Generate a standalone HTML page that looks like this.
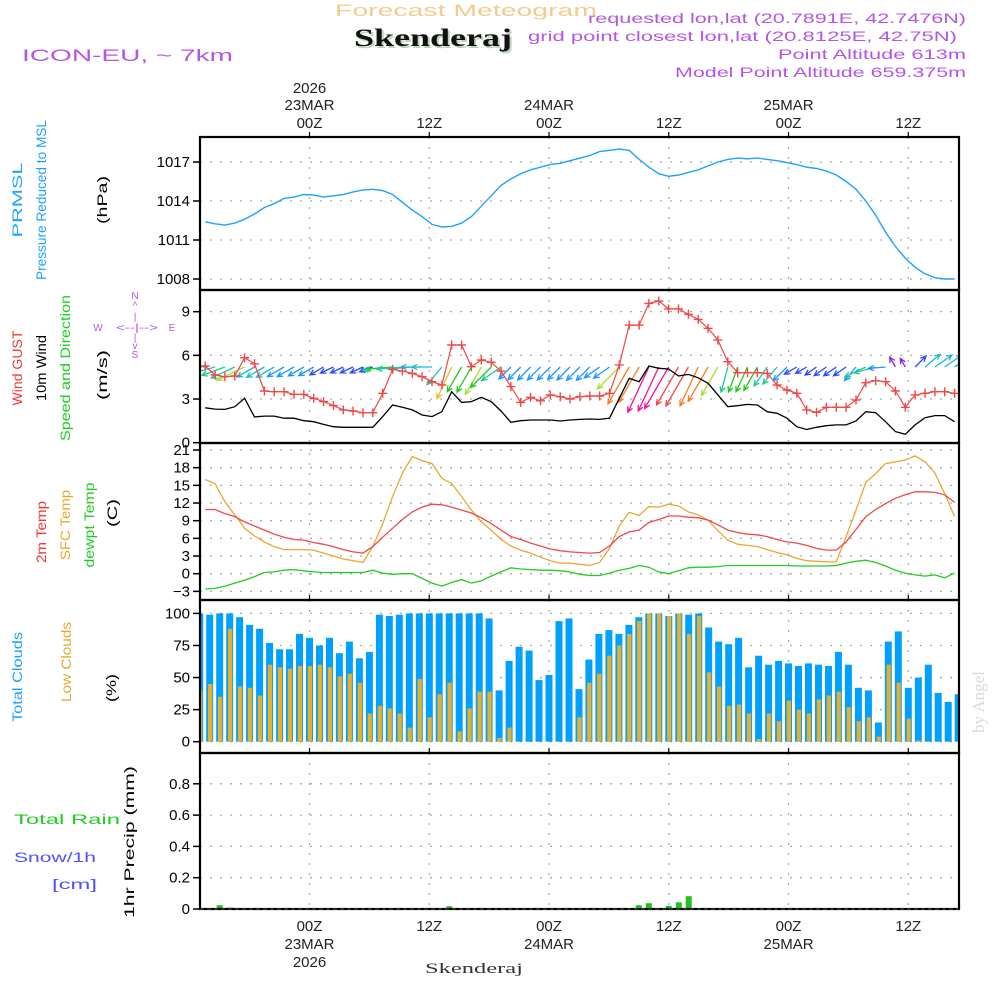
<!DOCTYPE html>
<html><head><meta charset="utf-8"><title>Skenderaj Meteogram</title>
<style>
html,body{margin:0;padding:0;background:#fff;}
svg{display:block;font-family:"Liberation Sans",sans-serif;}
</style></head>
<body>
<svg id="chart" width="1000" height="1000" viewBox="0 0 1000 1000" xmlns="http://www.w3.org/2000/svg">
<defs>
<clipPath id="plotclip"><rect x="200" y="137" width="759" height="775"/></clipPath>
</defs>
<g id="header">
<text x="466" y="16" text-anchor="middle" font-size="17" fill="#f2cc8e" textLength="262">Forecast Meteogram</text>
<text x="435" y="48" text-anchor="middle" font-size="25" font-weight="bold" font-family="Liberation Serif, serif" fill="#bcd3bc" textLength="158">Skenderaj</text>
<text x="433" y="46" text-anchor="middle" font-size="25" font-weight="bold" font-family="Liberation Serif, serif" fill="#111" textLength="158">Skenderaj</text>
<text x="966" y="23" text-anchor="end" font-size="14" fill="#b455e6" textLength="378">requested lon,lat (20.7891E, 42.7476N)</text>
<text x="957" y="41" text-anchor="end" font-size="14" fill="#b455e6" textLength="429">grid point closest lon,lat (20.8125E, 42.75N)</text>
<text x="966" y="59" text-anchor="end" font-size="14" fill="#b455e6" textLength="188">Point Altitude 613m</text>
<text x="966" y="77" text-anchor="end" font-size="14" fill="#b455e6" textLength="291">Model Point Altitude 659.375m</text>
<text x="22" y="61" font-size="17" fill="#b455e6" textLength="211">ICON-EU, ~ 7km</text>
</g>
<g id="left-labels" font-size="14">
<text transform="translate(22,200) rotate(-90)" text-anchor="middle" fill="#1ea2ff" textLength="75">PRMSL</text>
<text transform="translate(46,200) rotate(-90)" text-anchor="middle" fill="#1ea2ff" textLength="160">Pressure Reduced to MSL</text>
<text transform="translate(107,200) rotate(-90)" text-anchor="middle" fill="#000" textLength="48">(hPa)</text>
<text transform="translate(22,368) rotate(-90)" text-anchor="middle" fill="#f03838" textLength="75">Wind GUST</text>
<text transform="translate(46,368) rotate(-90)" text-anchor="middle" fill="#000" textLength="66">10m Wind</text>
<text transform="translate(70,368) rotate(-90)" text-anchor="middle" fill="#22cc22" textLength="146">Speed and Direction</text>
<text transform="translate(107,375) rotate(-90)" text-anchor="middle" fill="#000" textLength="50">(m/s)</text>
<text transform="translate(46,532) rotate(-90)" text-anchor="middle" fill="#f03838" textLength="62">2m Temp</text>
<text transform="translate(70,525) rotate(-90)" text-anchor="middle" fill="#e8a830" textLength="70">SFC Temp</text>
<text transform="translate(94,525) rotate(-90)" text-anchor="middle" fill="#22cc22" textLength="85">dewpt Temp</text>
<text transform="translate(117,513) rotate(-90)" text-anchor="middle" fill="#000" textLength="28">(C)</text>
<text transform="translate(22,677) rotate(-90)" text-anchor="middle" fill="#1ea2ff" textLength="90">Total Clouds</text>
<text transform="translate(71,662) rotate(-90)" text-anchor="middle" fill="#e8a830" textLength="80">Low Clouds</text>
<text transform="translate(116,688) rotate(-90)" text-anchor="middle" fill="#000" textLength="28">(%)</text>
<text x="14" y="824" fill="#22cc22" textLength="106">Total   Rain</text>
<text x="14" y="862" fill="#5050ff" textLength="82">Snow/1h</text>
<text x="52" y="889" fill="#5050ff" textLength="45">[cm]</text>
<text transform="translate(134,842) rotate(-90)" text-anchor="middle" fill="#000" textLength="152">1hr Precip (mm)</text>
</g>
<g id="compass" fill="#b455e6" font-size="10">
<text x="135" y="299" text-anchor="middle">N</text>
<text x="135" y="309" text-anchor="middle">^</text>
<text x="135" y="320" text-anchor="middle">|</text>
<text x="98" y="331" text-anchor="middle">W</text>
<text x="137" y="331" text-anchor="middle" textLength="42">&lt;--|--&gt;</text>
<text x="172" y="331" text-anchor="middle">E</text>
<text x="135" y="341" text-anchor="middle">|</text>
<text x="135" y="349" text-anchor="middle">v</text>
<text x="135" y="358" text-anchor="middle">S</text>
</g>
<text transform="translate(984,702) rotate(-90)" text-anchor="middle" font-size="17" font-family="Liberation Serif, serif" fill="#d4dcd4">by Angel</text>
<g id="grid"></g>
<g id="marks" clip-path="url(#plotclip)"></g>
<g id="axes"></g>
</svg>
<script>
// ---- data ----
const cloudTotal = [100,99,100,100,97,91,88,77,72,72,84,81,75,81,69,78,65,70,99,98,99,100,100,100,100,100,100,100,100,96,40,63,74,71,48,52,94,96,41,64,84,87,84,91,97,100,100,98,100,99,100,89,78,76,81,58,67,60,63,61,59,61,60,59,70,60,42,40,15,78,86,42,50,60,38,31,37];
const cloudLow = [40,45,35,88,43,42,36,60,58,57,59,59,60,58,51,53,46,22,28,26,22,11,49,19,37,46,8,26,39,39,3,11,0,0,0,0,0,0,19,46,53,67,75,84,94,100,100,98,100,84,98,54,43,28,29,22,2,22,16,32,25,22,33,36,39,27,16,19,4,60,46,18,1,0,0,0,0];
const pressure = [1012.4,1012.25,1012.15,1012.3,1012.6,1013.0,1013.5,1013.8,1014.2,1014.3,1014.5,1014.45,1014.3,1014.4,1014.5,1014.7,1014.85,1014.9,1014.8,1014.5,1013.9,1013.3,1012.8,1012.2,1012.0,1012.05,1012.3,1012.8,1013.6,1014.4,1015.2,1015.7,1016.1,1016.4,1016.6,1016.8,1016.9,1017.1,1017.3,1017.5,1017.8,1017.9,1018.0,1017.9,1017.2,1016.6,1016.1,1015.9,1016.0,1016.2,1016.4,1016.7,1017.0,1017.2,1017.3,1017.25,1017.3,1017.2,1017.1,1016.95,1016.8,1016.6,1016.5,1016.3,1016.0,1015.5,1014.9,1014.0,1012.9,1011.6,1010.5,1009.6,1008.9,1008.4,1008.1,1008.0,1008.0];
const windGust = [5.27,4.65,4.53,4.58,5.84,5.42,3.55,3.5,3.5,3.32,3.32,3.05,2.82,2.55,2.25,2.18,2.06,2.06,3.39,5.04,4.92,4.76,4.53,4.19,3.96,6.71,6.71,5.22,5.68,5.52,4.92,3.85,2.77,3.12,2.88,3.28,3.16,3.0,3.16,3.21,3.21,3.39,5.34,8.08,8.08,9.57,9.73,9.19,9.19,8.82,8.47,7.86,7.05,5.56,4.81,4.81,4.81,4.76,3.96,3.62,3.39,2.25,2.09,2.43,2.43,2.43,2.93,4.12,4.26,4.19,3.55,2.43,3.28,3.39,3.5,3.5,3.39];
const wind10m = [2.4,2.31,2.29,2.47,3.05,1.77,1.83,1.83,1.68,1.68,1.51,1.44,1.26,1.1,1.06,1.06,1.06,1.06,1.79,2.59,2.43,2.25,1.9,1.79,2.13,3.5,2.77,2.82,3.12,2.82,2.18,1.4,1.51,1.56,1.56,1.56,1.49,1.56,1.6,1.63,1.6,1.68,3.05,4.42,4.19,5.27,5.11,5.06,4.58,4.69,4.46,4.08,3.28,2.47,2.54,2.63,2.59,2.13,2.02,1.68,1.1,0.91,1.06,1.17,1.22,1.22,1.49,2.13,2.06,1.44,0.76,0.58,1.22,1.72,1.86,1.86,1.44];
const windDir = [275,255,250,245,245,240,240,240,240,240,240,240,240,245,245,245,245,250,260,265,265,265,270,270,220,205,210,210,210,225,235,225,225,225,225,225,225,225,225,225,235,235,225,210,210,205,205,210,210,210,205,210,210,195,200,205,210,215,220,225,240,240,235,235,235,235,220,245,255,265,330,330,45,50,55,55,55];
const temp2m = [10.9,10.9,10.2,9.7,8.8,8.1,7.4,6.7,6.2,5.8,5.7,5.3,5.0,4.6,4.1,3.7,3.5,4.6,6.2,7.7,9.2,10.5,11.3,11.8,11.7,11.3,10.8,10.3,9.5,8.5,7.4,6.3,5.8,5.2,4.7,4.2,3.9,3.7,3.6,3.5,3.6,4.7,6.3,7.1,7.4,8.7,9.2,9.8,9.8,9.6,9.5,9.1,8.3,7.4,7.0,6.7,6.6,6.3,5.8,5.4,5.2,4.8,4.3,4.0,4.0,5.4,7.5,9.7,10.9,11.9,12.8,13.4,13.9,13.9,13.8,13.4,12.1];
const tempSfc = [16.0,15.3,12.2,10.0,7.7,6.4,5.4,4.6,4.1,4.1,4.1,4.0,3.5,3.0,2.5,2.2,1.9,4.6,8.5,13.1,17.1,19.9,19.2,18.7,16.2,15.3,13.1,10.8,8.8,7.4,5.8,4.7,4.0,3.5,2.8,2.2,1.8,1.8,1.6,1.4,1.9,4.3,8.1,10.4,9.9,11.4,11.3,11.8,11.5,10.5,10.0,9.1,7.3,5.7,5.0,4.8,4.6,4.1,3.6,3.2,2.6,2.2,2.1,2.0,2.0,6.3,10.8,15.5,17.0,18.7,19.0,19.3,20.0,19.0,17.1,13.6,9.7];
const dewpt = [-2.6,-2.5,-2.1,-1.6,-1.1,-0.5,0.2,0.3,0.6,0.7,0.5,0.3,0.2,0.2,0.2,0.2,0.2,0.6,0.1,-0.1,0.0,0.0,-0.8,-1.6,-2.1,-1.5,-1.0,-1.6,-1.2,-0.4,0.3,1.0,0.8,0.7,0.6,0.6,0.5,0.3,-0.1,-0.3,-0.3,0.1,0.6,0.9,1.4,1.1,0.3,0.0,0.5,1.0,1.1,1.1,1.2,1.4,1.4,1.4,1.4,1.4,1.4,1.4,1.3,1.3,1.3,1.3,1.4,1.8,2.1,2.3,1.9,1.3,0.6,0.1,-0.2,-0.4,-0.2,-0.7,0.1];
const precipIdx = [2,3,25,44,45,47,48,49];
const precipVal = [0.024,0.009,0.017,0.024,0.037,0.019,0.043,0.082];
const pressTicks = [1008,1011,1014,1017];
const windTicks = [0,3,6,9];
const tempTicks = [-3,0,3,6,9,12,15,18,21];
const cloudTicks = [0,25,50,75,100];
const precipTicks = [0,0.2,0.4,0.6,0.8];
const timeTicksH = [0,12,24,36,48,60];
const timeTickLabels = ["00Z","12Z","00Z","12Z","00Z","12Z"];
const dateLabels = ["23MAR","","24MAR","","25MAR",""];

// ---- axes ----
const X0 = 200, X1 = 959;
const xh = h => 309.5 + 9.98 * h;
const barH = k => -11 + k;
const lineH = i => -10.45 + i * 0.988;
const yP = p => 162 + (1017 - p) * 13;
const yW = v => 442.7 - 14.56 * v;
const yT = t => 573.7 - 5.89 * t;
const yC = c => 741.7 - 1.283 * c;
const yR = r => 909 - 156.5 * r;
const panels = [
  {name:'pressure', top:137, bot:290, ticks:pressTicks, y:yP, fmt:v=>String(v)},
  {name:'wind', top:290, bot:443, ticks:windTicks, y:yW, fmt:v=>String(v)},
  {name:'temperature', top:443, bot:600, ticks:tempTicks, y:yT, fmt:v=>(v<0?'\u2212'+(-v):String(v))},
  {name:'clouds', top:600, bot:753, ticks:cloudTicks, y:yC, fmt:v=>String(v)},
  {name:'precip', top:753, bot:909, ticks:precipTicks, y:yR, fmt:v=>(v===0?'0':v.toFixed(1))}
];
const NS = 'http://www.w3.org/2000/svg';
function mk(parent, tag, attrs, text){
  const e = document.createElementNS(NS, tag);
  for (const k in attrs) e.setAttribute(k, attrs[k]);
  if (text !== undefined) e.textContent = text;
  parent.appendChild(e);
  return e;
}
document.querySelectorAll('text[textLength]').forEach(t => t.setAttribute('lengthAdjust', 'spacingAndGlyphs'));
const grid = document.getElementById('grid');
const marks = document.getElementById('marks');
const axes = document.getElementById('axes');

panels.forEach(p => {
  const g = mk(grid, 'g', {});
  
  
  p.ticks.forEach(v => {
    const y = p.y(v);
    if (y > p.top + 3 && y < p.bot - 1) {
      const l = mk(g, 'line', {x1:X0, x2:X1, y1:y, y2:y, stroke:'#aaa', 'stroke-width':1.3, 'stroke-dasharray':'2,8'});
      
      
    }
  });
  timeTicksH.forEach(h => {
    const l = mk(g, 'line', {x1:xh(h), x2:xh(h), y1:p.top, y2:p.bot, stroke:'#aaa', 'stroke-width':1.3, 'stroke-dasharray':'2,8'});
    
    
  });
  p.ticks.forEach(v => {
    const y = p.y(v);
    const t = mk(axes, 'line', {x1:193, x2:200, y1:y, y2:y, stroke:'#000', 'stroke-width':1.5});
    
    
    const lb = mk(axes, 'text', {x:190, y:y+5, 'text-anchor':'end', 'font-size':15, fill:'#000'}, p.fmt(v));
    
    
  });
  const r = mk(axes, 'rect', {x:X0, y:p.top, width:X1-X0, height:p.bot-p.top, fill:'none', stroke:'#000', 'stroke-width':2.2});
  
  
});
const db = mk(axes, 'line', {x1:X0, x2:X1, y1:909, y2:909, stroke:'#555', 'stroke-width':1, 'stroke-dasharray':'4,3'});



timeTicksH.forEach((h, i) => {
  const x = xh(h);
  const a = mk(axes, 'text', {x:x, y:128, 'text-anchor':'middle', 'font-size':15, fill:'#222'}, timeTickLabels[i]);
  
  
  const b = mk(axes, 'text', {x:x, y:931, 'text-anchor':'middle', 'font-size':15, fill:'#222'}, timeTickLabels[i]);
  
  
  if (dateLabels[i]) {
    const c = mk(axes, 'text', {x:x, y:110, 'text-anchor':'middle', 'font-size':15, fill:'#222'}, dateLabels[i]);
    
    
    const d = mk(axes, 'text', {x:x, y:949, 'text-anchor':'middle', 'font-size':15, fill:'#222'}, dateLabels[i]);
    
    
  }
  [137, 600, 753].forEach(yy => {
    const tk = mk(axes, 'line', {x1:x, x2:x, y1:yy-5, y2:yy, stroke:'#000', 'stroke-width':1.2});
    
    
  });
});
const yr1 = mk(axes, 'text', {x:xh(0), y:93, 'text-anchor':'middle', 'font-size':15, fill:'#222'}, '2026');


const yr2 = mk(axes, 'text', {x:xh(0), y:967, 'text-anchor':'middle', 'font-size':15, fill:'#222'}, '2026');


const bs = mk(axes, 'text', {x:474, y:973, 'text-anchor':'middle', 'font-size':15, 'font-family':'Liberation Serif, serif', fill:'#333', textLength:98, lengthAdjust:'spacingAndGlyphs'}, 'Skenderaj');



// ---- marks ----
function linePath(vals, yf){
  return vals.map((v, i) => (i ? 'L' : 'M') + xh(lineH(i)).toFixed(1) + ',' + yf(v).toFixed(1)).join(' ');
}
const pl = mk(marks, 'path', {d:linePath(pressure, yP), fill:'none', stroke:'#1ea2ff', 'stroke-width':1.4});



function arrowColor(v){
  if (v < 0.9) return '#8a2be2';
  if (v < 1.3) return '#2b48ff';
  if (v < 1.7) return '#1e96ff';
  if (v < 2.0) return '#18bcd6';
  if (v < 2.5) return '#20c8a0';
  if (v < 3.0) return '#22c822';
  if (v < 3.5) return '#a8e030';
  if (v < 4.0) return '#e8c020';
  if (v < 4.5) return '#f08020';
  if (v < 5.0) return '#f04848';
  return '#f0109a';
}
windDir.forEach((d, i) => {
  const v = wind10m[i];
  const L = 5 + 8.5 * v;
  const a = d * Math.PI / 180;
  const x0 = xh(lineH(i)), y0 = 367;
  const x1 = x0 + L * Math.sin(a), y1 = y0 - L * Math.cos(a);
  const h1 = a + Math.PI - 0.45, h2 = a + Math.PI + 0.45;
  const col = arrowColor(v);
  const p = `M${x0.toFixed(1)},${y0} L${x1.toFixed(1)},${y1.toFixed(1)} M${(x1+6*Math.sin(h1)).toFixed(1)},${(y1-6*Math.cos(h1)).toFixed(1)} L${x1.toFixed(1)},${y1.toFixed(1)} L${(x1+6*Math.sin(h2)).toFixed(1)},${(y1-6*Math.cos(h2)).toFixed(1)}`;
  const e = mk(marks, 'path', {d:p, fill:'none', stroke:col, 'stroke-width':1.3});
  
  
});
const wl = mk(marks, 'path', {d:linePath(wind10m, yW), fill:'none', stroke:'#000', 'stroke-width':1.3});


const gl = mk(marks, 'path', {d:linePath(windGust, yW), fill:'none', stroke:'#f04848', 'stroke-width':1.2});


windGust.forEach((v, i) => {
  const x = xh(lineH(i)), y = yW(v);
  const c = mk(marks, 'path', {d:`M${(x-4.5).toFixed(1)},${y.toFixed(1)} H${(x+4.5).toFixed(1)} M${x.toFixed(1)},${(y-4.5).toFixed(1)} V${(y+4.5).toFixed(1)}`, stroke:'#f04848', 'stroke-width':1.4});
  
  
});
const dl = mk(marks, 'path', {d:linePath(dewpt, yT), fill:'none', stroke:'#22cc22', 'stroke-width':1.3});


const sl = mk(marks, 'path', {d:linePath(tempSfc, yT), fill:'none', stroke:'#e8a830', 'stroke-width':1.3});


const tl = mk(marks, 'path', {d:linePath(temp2m, yT), fill:'none', stroke:'#f04848', 'stroke-width':1.3});


cloudTotal.forEach((v, k) => {
  const x = xh(barH(k));
  const b = mk(marks, 'rect', {x:(x-3.5).toFixed(1), y:yC(v).toFixed(1), width:7, height:(yC(0)-yC(v)).toFixed(1), fill:'#00a0ff'});
  
  
});
cloudLow.forEach((v, k) => {
  if (v <= 0) return;
  const x = xh(barH(k));
  const b = mk(marks, 'rect', {x:(x-1.7).toFixed(1), y:yC(v).toFixed(1), width:4.2, height:(yC(0)-yC(v)).toFixed(1), fill:'#e6b02e'});
  
  
});
precipIdx.forEach((k, j) => {
  const x = xh(barH(k));
  const v = precipVal[j];
  const b = mk(marks, 'rect', {x:(x-3).toFixed(1), y:yR(v).toFixed(1), width:6, height:(yR(0)-yR(v)).toFixed(1), fill:'#22c022'});
  
  
});
</script>
</body></html>
